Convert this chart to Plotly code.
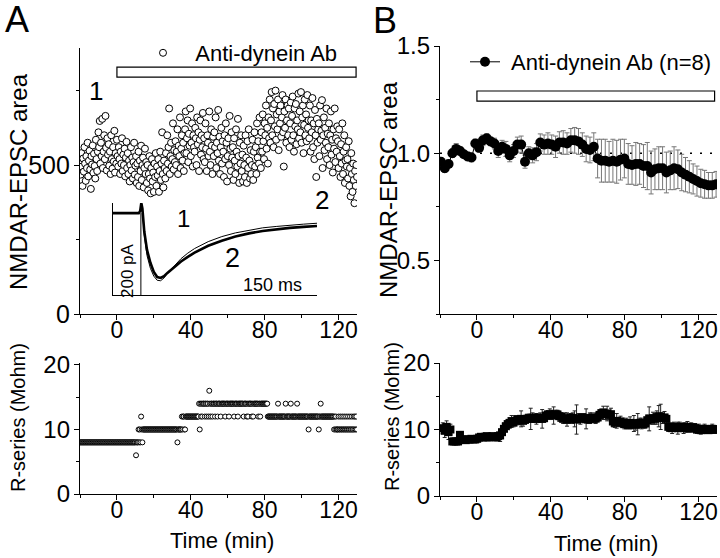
import numpy as np
import plotly.graph_objects as go

# ---------------- data ----------------
# Panel A (single cell), 436 sweeps from -20 to 130 min
A_time = list(np.round(np.linspace(-20.0, 130.0, 436), 3))
A_epsc = [
512, 468, 540, 495, 430, 522, 478, 560, 505, 447, 530, 490, 575, 462, 515,
548, 485, 420, 530, 502, 566, 474, 538, 497, 455, 585, 520, 480, 545, 610,
560, 648, 505, 575, 530, 655, 490, 545, 600, 520, 665, 558, 482, 590, 535,
570, 498, 545, 470, 600, 520, 488, 560, 512, 615, 475, 540, 505, 585, 530,
495, 560, 520, 470, 545, 505, 590, 480, 535, 500, 555, 462, 525, 578, 490,
540, 470, 515, 445, 500, 560, 482, 525, 455, 510, 575, 468, 498, 530, 440,
505, 460, 545, 430, 515, 480, 565, 450, 500, 525, 425, 490, 555, 470, 510,
440, 500, 415, 470, 530, 455, 405, 490, 520, 445, 475, 410, 505, 460, 540,
430, 495, 465, 520, 410, 480, 545, 450, 505, 610, 470, 425, 515, 490, 455,
540, 480, 600, 505, 560, 690, 470, 530, 575, 495, 520, 640, 485, 550, 510,
580, 500, 545, 620, 470, 565, 530, 660, 490, 555, 600, 515, 575, 480, 540,
620, 680, 540, 590, 650, 510, 605, 565, 690, 530, 575, 640, 495, 600, 560,
545, 625, 590, 500, 660, 570, 610, 480, 585, 650, 535, 600, 560, 675, 520,
590, 510, 640, 555, 480, 600, 575, 530, 680, 545, 500, 620, 565, 470, 595,
530, 610, 560, 660, 490, 575, 540, 685, 515, 595, 470, 560, 625, 505, 580,
545, 460, 600, 520, 640, 575, 445, 530, 590, 500, 665, 555, 480, 610, 525,
560, 450, 590, 515, 470, 620, 545, 495, 655, 530, 440, 575, 505, 600, 480,
535, 445, 565, 500, 460, 600, 525, 440, 580, 490, 620, 515, 455, 550, 470,
500, 585, 450, 545, 610, 495, 560, 470, 640, 525, 580, 505, 660, 545, 490,
610, 545, 670, 580, 520, 640, 600, 700, 555, 625, 505, 660, 590, 720, 575,
650, 745, 600, 690, 560, 705, 630, 750, 585, 670, 620, 720, 550, 680, 640,
700, 595, 660, 735, 610, 495, 680, 625, 720, 575, 650, 700, 600, 690, 560,
640, 710, 585, 665, 730, 600, 545, 690, 630, 705, 570, 650, 620, 740, 590,
680, 610, 745, 575, 660, 700, 540, 635, 720, 600, 670, 580, 735, 625, 650,
590, 700, 545, 650, 610, 725, 560, 640, 520, 685, 600, 460, 655, 575, 620,
640, 530, 700, 585, 615, 718, 490, 600, 660, 550, 625, 575, 690, 520, 605,
560, 640, 500, 600, 680, 535, 585, 475, 620, 555, 690, 510, 590, 545, 630,
580, 490, 620, 530, 460, 570, 505, 640, 470, 545, 600, 440, 515, 560, 495,
520, 455, 580, 430, 490, 395, 540, 470, 410, 505, 450, 372, 480, 430, 500,
460]
A_rs = [
8, 8, 8, 8, 8, 8, 8, 8, 8, 8, 8, 8, 8, 8, 8,
8, 8, 8, 8, 8, 8, 8, 8, 8, 8, 8, 8, 8, 8, 8,
8, 8, 8, 8, 8, 8, 8, 8, 8, 8, 8, 8, 8, 8, 8,
8, 8, 8, 8, 8, 8, 8, 8, 8, 8, 8, 8, 8, 8, 8,
8, 8, 8, 8, 8, 8, 8, 8, 8, 8, 8, 8, 8, 8, 8,
8, 8, 8, 8, 8, 8, 8, 8, 8, 8, 8, 8, 8, 6, 8,
8, 8, 10, 8, 10, 8, 12, 10, 8, 10, 10, 10, 10, 10, 10,
10, 10, 10, 10, 10, 10, 10, 10, 10, 10, 10, 10, 10, 10, 10,
10, 10, 10, 10, 10, 10, 10, 10, 10, 10, 10, 10, 10, 10, 10,
10, 10, 10, 10, 10, 10, 10, 10, 10, 10, 10, 10, 10, 10, 10,
10, 10, 10, 8, 10, 10, 10, 10, 10, 10, 12, 10, 12, 12, 10,
10, 12, 12, 12, 12, 12, 12, 12, 12, 12, 12, 12, 12, 12, 12,
12, 12, 12, 12, 12, 12, 12, 14, 10, 14, 12, 14, 12, 14, 14,
14, 12, 14, 14, 12, 14, 14, 12, 16, 14, 12, 14, 14, 12, 14,
14, 14, 12, 14, 14, 14, 12, 14, 14, 14, 14, 12, 14, 14, 14,
14, 14, 14, 12, 14, 14, 14, 14, 14, 12, 14, 14, 14, 14, 14,
14, 14, 12, 14, 14, 14, 14, 14, 12, 14, 14, 14, 14, 14, 14,
14, 14, 12, 14, 14, 14, 14, 12, 14, 12, 14, 14, 14, 14, 14,
12, 14, 12, 14, 14, 14, 14, 14, 14, 14, 12, 14, 14, 12, 14,
14, 14, 14, 14, 14, 14, 14, 14, 14, 14, 12, 12, 12, 12, 12,
12, 12, 12, 12, 12, 12, 12, 12, 12, 12, 12, 14, 12, 12, 12,
12, 12, 12, 12, 12, 12, 12, 12, 14, 12, 12, 12, 12, 12, 12,
12, 14, 12, 12, 12, 12, 12, 12, 12, 12, 12, 14, 12, 12, 12,
12, 12, 12, 12, 12, 12, 12, 12, 12, 12, 12, 12, 12, 12, 10,
12, 12, 12, 12, 12, 12, 12, 12, 12, 12, 12, 12, 12, 12, 12,
10, 12, 12, 14, 12, 12, 12, 12, 12, 12, 12, 12, 12, 12, 12,
12, 12, 12, 12, 12, 12, 12, 12, 12, 10, 12, 10, 12, 10, 10,
10, 12, 10, 10, 12, 10, 10, 12, 10, 10, 12, 10, 10, 12, 10,
10, 12, 10, 10, 12, 10, 10, 12, 10, 10, 12, 10, 12, 10, 12,
10]

# Inset: example EPSC traces (ms, pA)
inset_t = [0, 19, 20, 20.8, 21.6, 23, 25, 27.5, 30, 32.5, 35, 37.5, 40, 45, 50,
           55, 60, 70, 80, 90, 100, 110, 120, 130, 140, 150]
trace1_pA = [0, 0, 5, 22, 8, -48, -92, -120, -137, -146, -147, -141, -131, -114,
             -99, -87, -77, -62, -51, -43, -37, -32, -29, -26, -24, -22]
trace2_pA = [0, 0, 5, 22, 10, -40, -80, -108, -128, -139, -141, -137, -130, -117,
             -105, -95, -86, -71, -60, -51, -44, -39, -35, -32, -30, -28]

# Panel B (n=8): normalized area, 73 bins from -19.5 to 129.5 min
B_time = list(np.round(np.linspace(-19.5, 129.5, 73), 2))
B_area = [0.96, 0.93, 0.95, 1.00, 1.02, 1.01, 0.995, 0.985, 0.98, 1.045,
          1.025, 1.06, 1.07, 1.055, 1.045, 1.01, 1.03, 1.02, 0.99, 1.01, 1.04, 1.04,
          0.96, 1.0, 0.99, 1.005, 1.05, 1.04, 1.045, 1.04, 1.03, 1.05, 1.05,
          1.045, 1.06, 1.06, 1.055, 1.04, 1.02, 1.015, 1.03,
          0.975, 0.965, 0.965, 0.96, 0.965, 0.96, 0.97, 0.975, 0.95,
          0.945, 0.95, 0.95, 0.94, 0.94, 0.91, 0.925, 0.93, 0.93, 0.91, 0.92, 0.93,
          0.925, 0.91, 0.90, 0.89,
          0.88, 0.87, 0.86, 0.855, 0.85, 0.85, 0.855]
B_area_err = [0.02, 0.02, 0.015, 0.02, 0.025, 0.02, 0.015, 0.02, 0.02, 0.02,
              0.02, 0.025, 0.02, 0.02, 0.025, 0.03, 0.03, 0.035, 0.03, 0.03, 0.035, 0.04,
              0.03, 0.03, 0.035, 0.04, 0.04, 0.045, 0.05, 0.045, 0.05, 0.05, 0.055,
              0.05, 0.055, 0.06, 0.06, 0.055, 0.06, 0.06, 0.065,
              0.09, 0.1, 0.1, 0.095, 0.1, 0.1, 0.095, 0.09, 0.095,
              0.09, 0.1, 0.095, 0.1, 0.11, 0.1, 0.095, 0.1, 0.1, 0.095, 0.09, 0.1,
              0.09, 0.085, 0.08, 0.075,
              0.07, 0.07, 0.065, 0.065, 0.06, 0.06, 0.06]

# Panel B: R-series, 144 bins from -18.5 to 129.5 min
B_rs_time = list(np.round(np.linspace(-18.5, 129.5, 144), 2))
B_rs = [10.2, 9.8, 10.4, 9.6, 10.0,
        8.2, 8.2, 8.2, 8.2,
        9.2,
        8.5, 8.5, 8.4, 8.5, 8.5, 8.6, 8.5, 8.5, 8.6,
        8.8, 8.9, 8.8, 8.9, 9.0, 8.8, 8.9, 9.0, 8.9, 8.8, 9.0, 9.1,
        9.6, 10.1, 10.5, 10.8,
        11.0, 11.2, 11.1, 11.3, 11.5, 11.4, 11.6, 11.3, 11.5,
        11.6, 11.7, 11.6, 11.8, 11.7, 11.6, 11.7, 11.8, 11.6, 11.7,
        12.1, 12.2, 12.3, 12.2, 12.1, 12.3, 12.2, 12.0, 11.9,
        11.6, 11.7, 11.5, 11.6, 11.8, 11.7, 11.6, 11.5, 11.7, 11.6, 11.8, 11.7, 11.6,
        11.5, 11.7, 11.8, 11.6, 11.7, 11.8,
        12.2, 12.4, 12.5, 12.3, 12.4, 12.2, 12.3,
        11.2, 11.0, 11.3, 11.1, 11.2, 11.0,
        10.8, 10.9, 10.7, 11.0, 10.8, 10.9, 10.7, 10.8, 11.0, 10.9, 10.8, 10.9,
        11.4, 11.6, 11.5, 11.7, 11.6, 11.8, 12.0, 11.9, 11.7, 11.8, 11.6,
        10.4, 10.3, 10.2, 10.4, 10.3, 10.2, 10.4, 10.3, 10.2, 10.3, 10.4, 10.2, 10.3,
        10.3, 10.2,
        10.0, 10.1, 9.9, 10.0, 10.1, 10.0, 9.9, 10.0, 10.1, 10.0, 10.0]
B_rs_err = [0.8, 1.0, 0.9, 1.1, 0.8,
            0.1, 0.1, 0.1, 0.1,
            0.5,
            0.3, 0.3, 0.3, 0.3, 0.3, 0.3, 0.3, 0.3, 0.4,
            0.5, 0.4, 0.5, 0.5, 0.4, 0.5, 0.5, 0.4, 0.5, 0.5, 0.6, 0.9,
            0.7, 0.8, 0.8, 0.7,
            0.8, 0.9, 0.7, 0.8, 0.6, 0.7, 1.2, 0.8, 0.6,
            0.7, 0.6, 1.6, 0.7, 0.6, 0.8, 0.6, 0.7, 1.4, 0.6,
            0.7, 0.6, 0.8, 0.7, 1.3, 0.6, 0.7, 0.8, 0.6,
            0.7, 0.8, 1.0, 0.7, 0.6, 0.8, 1.2, 2.2, 0.7, 0.8, 0.6, 0.7, 1.5,
            0.6, 0.8, 0.7, 0.6, 0.8, 0.7,
            0.8, 0.7, 1.0, 0.8, 1.1, 0.7, 0.9,
            0.8, 0.7, 1.1, 0.6, 0.8, 0.7,
            0.7, 0.8, 0.6, 0.9, 0.7, 1.2, 0.8, 1.6, 0.7, 0.8, 0.6, 0.7,
            0.8, 1.8, 0.7, 0.9, 0.8, 1.0, 1.6, 1.9, 0.8, 0.9, 0.7,
            0.7, 0.6, 0.8, 0.7, 0.6, 0.9, 0.7, 0.6, 0.8, 0.7, 0.8, 0.6, 0.7,
            0.6, 0.7,
            0.6, 0.7, 0.6, 0.5, 0.7, 0.6, 0.5, 0.6, 0.7, 0.6, 0.6]

x_ticks = [0, 40, 80, 120]

# ---------------- figure ----------------
W, H = 720, 558
def px(x):
    return x / W
def py(y):
    return 1 - y / H

FONT = "Liberation Sans, Arial, Helvetica, sans-serif"
NB = "\u00a0"
XR = [-20, 130]
fig = go.Figure()

fig.add_trace(go.Scatter(
    x=A_time, y=A_epsc, mode="markers", name=NB + NB + "Anti-dynein Ab",
    marker=dict(symbol="circle", size=7, color="white",
                line=dict(color="black", width=1)),
    xaxis="x", yaxis="y", legend="legend", showlegend=True))

fig.add_trace(go.Scatter(
    x=inset_t, y=trace1_pA, mode="lines", line=dict(color="black", width=1),
    xaxis="x5", yaxis="y5", showlegend=False))
fig.add_trace(go.Scatter(
    x=inset_t, y=trace2_pA, mode="lines", line=dict(color="black", width=2.6),
    xaxis="x5", yaxis="y5", showlegend=False))

fig.add_trace(go.Scatter(
    x=A_time, y=A_rs, mode="markers",
    marker=dict(symbol="circle", size=5, color="white",
                line=dict(color="black", width=1)),
    xaxis="x2", yaxis="y2", showlegend=False))

fig.add_trace(go.Scatter(
    x=B_time, y=B_area, mode="lines+markers", name=NB + "Anti-dynein Ab (n=8)",
    line=dict(color="black", width=1),
    marker=dict(symbol="circle", size=10, color="black"),
    error_y=dict(type="data", array=B_area_err, color="#777777",
                 thickness=1, width=2.5),
    xaxis="x3", yaxis="y3", legend="legend2", showlegend=True))

fig.add_trace(go.Scatter(
    x=B_rs_time, y=B_rs, mode="markers",
    marker=dict(symbol="square", size=8, color="black"),
    error_y=dict(type="data", array=B_rs_err, color="#222222",
                 thickness=1, width=2),
    xaxis="x4", yaxis="y4", showlegend=False))

def axis_style(is_x, **kw):
    d = dict(showline=True, linecolor="black", linewidth=1.3, ticks="outside",
             ticklen=5, tickwidth=1.3, tickcolor="black", showgrid=False,
             zeroline=False, mirror=False, automargin=False,
             ticklabeloverflow="allow",
             ticklabelstandoff=(-10 if is_x else -1),
             tickfont=dict(size=(23 if is_x else 24), color="black", family=FONT))
    d.update(kw)
    return d

xA = [px(80), px(357)]
xB = [px(440), px(717)]
minor_x = dict(ticks="outside", ticklen=3, tickwidth=1, tickcolor="black",
               dtick=20, tick0=0)

fig.update_layout(
    template="none",
    width=W, height=H, margin=dict(l=0, r=0, t=0, b=0, pad=0, autoexpand=False),
    paper_bgcolor="white", plot_bgcolor="white",
    font=dict(family=FONT, color="black"),
    xaxis=axis_style(True, domain=xA, anchor="y", range=XR, tickvals=x_ticks,
                     minor=minor_x),
    yaxis=axis_style(False, domain=[py(314), py(48)], anchor="x", range=[0, 893],
                     tickvals=[0, 500], tickfont=dict(size=25, color="black", family=FONT),
                     minor=dict(ticks="outside", ticklen=3, tickwidth=1,
                                tickcolor="black", dtick=250, tick0=0)),
    xaxis2=axis_style(True, domain=xA, anchor="y2", range=XR, tickvals=x_ticks,
                      minor=minor_x),
    yaxis2=axis_style(False, domain=[py(494), py(363)], anchor="x2", range=[0, 20.3],
                      tickvals=[0, 10, 20],
                      minor=dict(ticks="outside", ticklen=3, tickwidth=1,
                                 tickcolor="black", dtick=5, tick0=0)),
    xaxis3=axis_style(True, domain=xB, anchor="y3", range=XR, tickvals=x_ticks,
                      minor=minor_x),
    yaxis3=axis_style(False, domain=[py(314), py(46)], anchor="x3", range=[0.25, 1.5],
                      tickvals=[0.5, 1.0, 1.5], ticktext=["0.5", "1.0", "1.5"],
                      minor=dict(ticks="outside", ticklen=3, tickwidth=1,
                                 tickcolor="black", dtick=0.25, tick0=0)),
    xaxis4=axis_style(True, domain=xB, anchor="y4", range=XR, tickvals=x_ticks,
                      minor=minor_x),
    yaxis4=axis_style(False, domain=[py(496), py(363)], anchor="x4", range=[0, 20],
                      tickvals=[0, 10, 20],
                      minor=dict(ticks="outside", ticklen=3, tickwidth=1,
                                 tickcolor="black", dtick=5, tick0=0)),
    xaxis5=dict(domain=[px(113), px(317)], anchor="y5", range=[0, 150],
                showline=True, linecolor="black", linewidth=1, ticks="",
                showticklabels=False, showgrid=False, zeroline=False, automargin=False),
    yaxis5=dict(domain=[py(295), py(203)], anchor="x5", range=[-178, 22],
                showline=True, linecolor="black", linewidth=1, ticks="",
                showticklabels=False, showgrid=False, zeroline=False, automargin=False),
    legend=dict(x=px(143), y=py(53), xanchor="left", yanchor="middle",
                font=dict(size=22, family=FONT, color="black"),
                bgcolor="rgba(0,0,0,0)", borderwidth=0),
    legend2=dict(x=px(465), y=py(62), xanchor="left", yanchor="middle",
                 font=dict(size=22, family=FONT, color="black"),
                 bgcolor="rgba(0,0,0,0)", borderwidth=0),
)

shapes = [
    dict(type="rect", xref="x", yref="y", x0=0, x1=129.5, y0=795, y1=829,
         line=dict(color="black", width=1.2), fillcolor="white", layer="above"),
    dict(type="rect", xref="x3", yref="y3", x0=0, x1=128.7, y0=1.243, y1=1.29,
         line=dict(color="black", width=1.2), fillcolor="white", layer="above"),
    dict(type="line", xref="x3", yref="y3", x0=-20, x1=130, y0=1.0, y1=1.0,
         line=dict(color="black", width=1.5, dash="2px,8px"), layer="below"),
    dict(type="line", xref="x5", yref="y5", x0=20.5, x1=20.5, y0=-178, y1=0,
         line=dict(color="black", width=1)),
]
fig.update_layout(shapes=shapes)

def ann(text, x, y, size, angle=0, xanchor="center"):
    return dict(text=text, x=px(x), y=py(y), xref="paper", yref="paper",
                showarrow=False, textangle=angle, xanchor=xanchor, yanchor="middle",
                font=dict(size=size, family=FONT, color="black"))

annotations = [
    ann("A", 17, 19, 36),
    ann("B", 385, 21, 36),
    ann("NMDAR-EPSC area", 18, 182, 24, -90),
    ann("NMDAR-EPSC area", 388, 190, 24, -90),
    ann("R-series (Mohm)", 18, 418, 20, -90),
    ann("R-series (Mohm)", 392, 416, 20, -90),
    ann("Time (min)", 222, 540, 22),
    ann("Time (min)", 606, 543, 22),
    ann("1", 96, 91, 26),
    ann("2", 322, 200, 26),
    ann("1", 183, 218, 24),
    ann("2", 232, 258, 27),
    ann("200 pA", 127, 271, 17, -90),
    ann("150 ms", 272, 285, 18),
]
fig.update_layout(annotations=annotations)

fig.write_html("out.html",
               config={"displayModeBar": False},
               post_script="document.body.style.margin='0px';"
                           "document.body.style.overflow='hidden';")
